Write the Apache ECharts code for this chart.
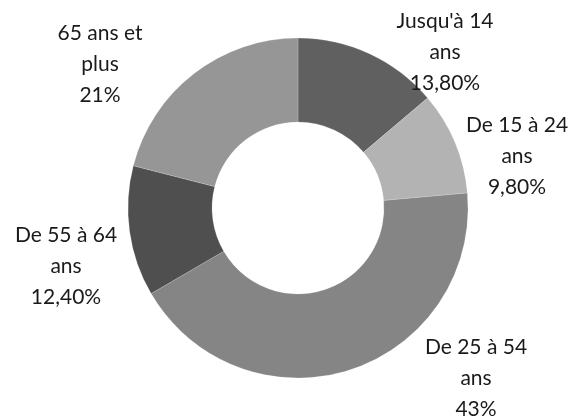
<!DOCTYPE html>
<html>
<head>
<meta charset="utf-8">
<script src="https://cdn.jsdelivr.net/npm/echarts@6/dist/echarts.min.js"></script>
<style>
  html, body { margin: 0; padding: 0; background: #fff; }
  #chart { width: 580px; height: 419px; }
</style>
</head>
<body>
<div id="chart"></div>
<script>
// tranches d'âge et parts (%)
const categories = ["Jusqu'à 14 ans", 'De 15 à 24 ans', 'De 25 à 54 ans', 'De 55 à 64 ans', '65 ans et plus'];
const values = [13.8, 9.8, 43, 12.4, 21];
const labelTexts = [
  "Jusqu'à 14\nans\n13,80%",
  'De 15 à 24\nans\n9,80%',
  'De 25 à 54\nans\n43%',
  'De 55 à 64\nans\n12,40%',
  '65 ans et\nplus\n21%'
];
const colors = ['#606060', '#b3b3b3', '#858585', '#4f4f4f', '#969696'];

// where each label block sits (centre of the text)
const labelSpots = [[445, 52], [517, 156], [476, 378], [66, 266], [100, 64]];

const chart = echarts.init(document.getElementById('chart'));
chart.setOption({
  animation: false,
  series: [{
    type: 'pie',
    center: [298, 208],
    radius: [86, 170],
    startAngle: 90,
    clockwise: true,
    data: categories.map((name, i) => ({
      name: name,
      value: values[i],
      itemStyle: { color: colors[i] },
      label: { formatter: labelTexts[i] }
    })),
    itemStyle: { borderColor: 'rgba(255,255,255,0.35)', borderWidth: 0.5 },
    label: {
      show: true,
      position: 'outside',
      overflow: 'none',
      color: '#1a1a1a',
      fontFamily: 'Lato',
      fontWeight: 'normal',
      fontSize: 21,
      lineHeight: 31,
      align: 'center'
    },
    labelLine: { show: false },
    labelLayout: function (params) {
      const p = labelSpots[params.dataIndex];
      return { x: p[0], y: p[1], align: 'center', verticalAlign: 'middle' };
    },
    emphasis: { disabled: true }
  }]
});
</script>
</body>
</html>
